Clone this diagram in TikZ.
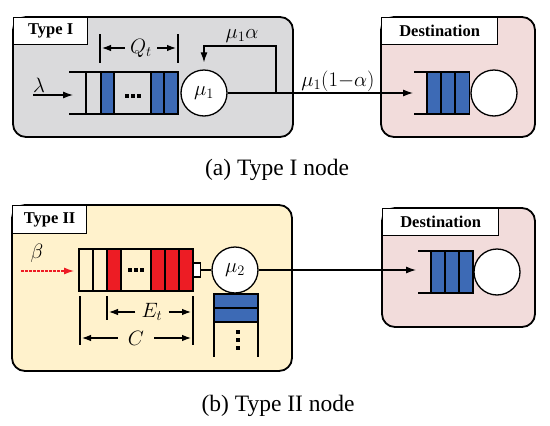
\documentclass[tikz,border=0pt]{standalone}
\usepackage{fontspec}
\setmainfont{Liberation Serif}
\usetikzlibrary{arrows.meta,positioning}
\definecolor{panelgray}{RGB}{218,218,220}
\definecolor{panelpink}{RGB}{242,220,219}
\definecolor{panelyellow}{RGB}{255,242,204}
\definecolor{qblue}{RGB}{61,106,181}
\definecolor{qred}{RGB}{237,28,36}

\begin{document}
\begin{tikzpicture}[x=1pt, y=-1pt,
  panel/.style={draw, line width=1.8pt, rounded corners=13pt},
  tag/.style={draw, line width=1.3pt, fill=white, anchor=north west, minimum height=27pt, inner sep=0pt, font=\fontsize{16.5}{19}\selectfont\bfseries},
  server/.style={draw, circle, line width=1.3pt, fill=white, minimum size=46pt, inner sep=0pt, font=\fontsize{20}{23}\selectfont},
  qline/.style={line width=1.3pt},
  arr/.style={line width=1.1pt, -{Latex[length=10pt,width=7pt]}},
  dim/.style={line width=1.1pt, shorten <=3pt, -{Latex[length=9pt,width=6.5pt]}},
  lbl/.style={font=\fontsize{20}{23}\selectfont, inner sep=2pt},
  caption/.style={font=\fontsize{23.5}{27}\selectfont}
]
\useasboundingbox (0,0) rectangle (550,426);

% panels
\draw[panel, fill=panelgray] (13,17) rectangle (293,137);
\node[tag, minimum width=74pt] (tag1) at (13,17) {Type I};
\draw[panel, fill=panelpink] (381,17) rectangle (535,137);
\node[tag, minimum width=116pt] (tagd1) at (381,17) {Destination};
\draw[panel, fill=panelyellow] (12,205) rectangle (292,371);
\node[tag, minimum width=74pt, minimum height=28pt] (tag2) at (12,205) {Type II};
\draw[panel, fill=panelpink] (382,208) rectangle (535,327);
\node[tag, minimum width=116pt] (tagd2) at (382,208) {Destination};

% (a) Type I node
\foreach \a/\b in {101/114,151/164,164/178}
  \draw[qline, fill=qblue] (\a,72) rectangle (\b,114);
\draw[qline] (69,72) -- (178,72) (69,114) -- (178,114) (86,72) -- (86,114);
\foreach \x in {127,133,139}
  \fill ({\x-2},94) rectangle ({\x+2},98);
\node[server] (mu1) at (204,93) {$\mu_1$};
% Q_t bracket
\draw[qline] (100,34) -- (100,63) (178,34) -- (178,63);
\node[lbl] (qt) at (141,48) {$Q_t$};
\coordinate (qtl) at (102,48);
\coordinate (qtr) at (176,48);
\draw[dim] (qt) -- (qtl);
\draw[dim] (qt) -- (qtr);
% arrivals
\node[lbl] (lam) at (39,85) {$\lambda$};
\coordinate (lamstart) at (33,95);
\coordinate (lamend) at (73,95);
\draw[arr] (lamstart) -- (lamend);
% feedback and output
\coordinate (split1) at (276,93);
\coordinate (fbtop) at (276,46);
\draw[arr] (split1) -- (fbtop) -| ([yshift=7pt]mu1.north);
\node[lbl] (fb) at (242,36) {$\mu_1\alpha$};
\coordinate (dest1in) at (413,93);
\draw[arr] (mu1) -- (dest1in);
\node[lbl] (out1) at (338,81) {$\mu_1(1{-}\alpha)$};

% destination of (a)
\foreach \a in {427,441,455}
  \draw[qline, fill=qblue] (\a,72) rectangle ({\a+14.5},114);
\draw[qline] (414,72) -- (470,72) (414,114) -- (470,114);
\node[server] (d1) at (494,93) {};

\node[caption] (capa) at (277,170) {(a) Type I node};

% (b) Type II node
\draw[qline] (79,249) rectangle (193,291);
\draw[qline] (93,249) -- (93,291);
\foreach \a/\b in {107/121,151/165,165/179,179/193}
  \draw[qline, fill=qred] (\a,249) rectangle (\b,291);
\foreach \x in {130,136,142}
  \fill ({\x-2},268) rectangle ({\x+2},272);
\node[draw, qline, fill=white, minimum width=7pt, minimum height=14pt, inner sep=0pt, anchor=west] (plug) at (193,270) {};
\node[server] (mu2) at (235,270) {$\mu_2$};
\draw[qline] (plug) -- (mu2);
% energy stack
\draw[qline, fill=qblue] (214,294) rectangle (258,308);
\draw[qline, fill=qblue] (214,308) rectangle (258,322);
\draw[qline] (214,322) -- (214,357) (258,322) -- (258,357);
\foreach \y in {332,340,348}
  \fill (236,{\y-2}) rectangle (240,{\y+2});
% E_t and C brackets
\draw[qline] (107,296) -- (107,320) (80,296) -- (80,345) (193,296) -- (193,345);
\node[lbl] (et) at (152,312) {$E_t$};
\coordinate (etl) at (109,312);
\coordinate (etr) at (191,312);
\draw[dim, shorten <=4pt] (et) -- (etl);
\draw[dim, shorten <=4pt] (et) -- (etr);
\node[lbl] (cap) at (136,338) {$C$};
\coordinate (cl) at (82,338);
\coordinate (cr) at (191,338);
\draw[dim, shorten <=8pt] (cap) -- (cl);
\draw[dim, shorten <=8pt] (cap) -- (cr);
% energy arrivals
\node[lbl] (beta) at (37,253) {$\beta$};
\coordinate (betastart) at (21,271);
\coordinate (betaend) at (74,271);
\draw[arr, qred, dash pattern=on 2.5pt off 1.5pt] (betastart) -- (betaend);
\coordinate (dest2in) at (416,270);
\draw[arr] (mu2) -- (dest2in);

% destination of (b)
\foreach \a in {431,445,459}
  \draw[qline, fill=qblue] (\a,251) rectangle ({\a+14},293);
\draw[qline] (418,251) -- (473,251) (418,293) -- (473,293);
\node[server] (d2) at (497,272) {};

\node[caption] (capb) at (278,406) {(b) Type II node};
\end{tikzpicture}
\end{document}
